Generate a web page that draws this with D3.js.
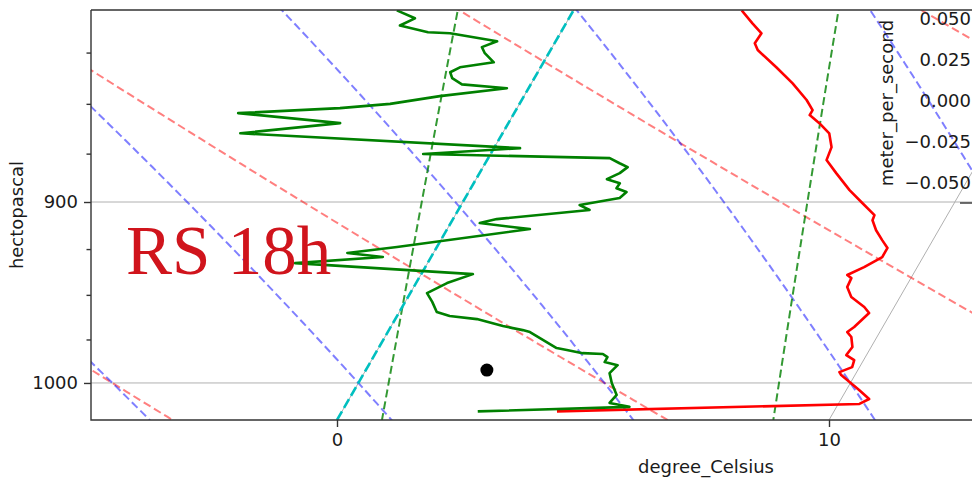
<!DOCTYPE html>
<meta charset="utf-8">
<style>
  body { margin: 0; background: #fff; }
  svg { display: block; font-family: "DejaVu Sans", sans-serif; }
  .grid { stroke: #b0b0b0; stroke-width: 1; fill: none; }
  .dry { stroke: #ff0000; stroke-opacity: .5; stroke-width: 2; stroke-dasharray: 8,4; fill: none; }
  .moist { stroke: #0000ff; stroke-opacity: .5; stroke-width: 2; stroke-dasharray: 8,4; fill: none; }
  .mix { stroke: #008000; stroke-opacity: .8; stroke-width: 2; stroke-dasharray: 8,4; fill: none; }
  .zero { stroke: #00bfbf; stroke-width: 2.6; stroke-dasharray: 10,4; fill: none; }
  .axis text { font-size: 18px; fill: #1a1a1a; font-family: "DejaVu Sans", sans-serif; }
  .axis path, .axis line { stroke: #333; stroke-width: 1.4; }
</style>
<body>
<svg width="972" height="481"></svg>
<script src="https://cdn.jsdelivr.net/npm/d3@7"></script>
<script>
// sounding (hPa, degC), surface first
var tempPressure = [1016.7, 1012.3, 1009.4, 1004.1, 995.4, 993.7, 990.8, 986.8, 983.9, 979.3,
  973.6, 970.8, 967.9, 960.1, 956.7, 951.2, 945.7, 940.8, 939.1, 934.8, 929.3, 924.4, 920.2,
  914.9, 909.6, 906.9, 900.5, 893.8, 885.0, 878.3, 871.7, 864.7, 859.6, 855.6, 853.1, 848.1,
  839.9, 832.1, 823.8, 820.5, 815.8, 811.1, 805.0];
var temperature = [4.37, 10.43, 10.57, 10.26, 9.72, 9.65, 9.85, 9.81, 9.59, 9.62,
  9.48, 9.34, 9.42, 9.56, 9.39, 9.01, 8.81, 8.79, 8.67, 8.92, 9.17, 9.17, 8.97,
  8.73, 8.54, 8.52, 8.13, 7.72, 7.25, 6.90, 6.85, 6.64, 6.32, 6.03, 6.03, 5.79,
  5.31, 4.79, 4.21, 4.07, 4.09, 3.79, 3.42];

var dewPressure = [1016.7, 1014.0, 1011.7, 1007.0, 1000.0, 994.3, 989.7, 987.9, 985.1, 983.3,
  982.8, 981.0, 979.9, 970.8, 969.7, 967.4, 963.5, 961.8, 959.5, 953.9, 949.0, 943.5, 938.6,
  932.6, 929.3, 927.1, 923.9, 914.3, 911.1, 909.0, 908.5, 904.2, 901.6, 897.9, 894.8, 892.8,
  890.2, 888.1, 885.0, 881.9, 879.9, 877.3, 875.2, 872.2, 864.7, 859.6, 854.6, 852.1, 850.0,
  846.2, 842.3, 840.4, 837.4, 834.5, 832.1, 829.7, 825.3, 822.4, 819.6, 815.8, 815.3, 812.1,
  808.7, 805.0];
var dewpoint = [2.76, 5.79, 5.34, 5.39, 5.15, 4.99, 5.06, 4.76, 4.76, 4.63,
  4.21, 3.85, 3.62, 2.89, 2.72, 2.27, 1.66, 1.07, 0.76, 0.55, 0.34, 0.63, 1.05,
  -2.69, -0.98, -1.75, -0.81, 1.68, 0.59, 0.89, 1.08, 2.67, 2.41, 3.14, 3.21, 2.96,
  2.97, 2.66, 2.85, 2.94, 2.73, 2.47, -1.37, 0.53, -5.33, -3.42, -5.61, -3.60, -2.63,
  -1.71, -0.44, -1.40, -1.67, -1.78, -1.64, -1.01, -1.30, -1.43, -1.19, -2.24, -2.70, -3.35,
  -3.13, -3.59];

var markerPoint = [992.5, 2.46];

// background lines
var dryT0 = [-25, -15, -5, 5, 15, 25, 35];
var moistT0 = [-5, 0, 5, 10, 15, 20, 25];
var mixRatios = [0.0004, 0.001, 0.002, 0.004, 0.007, 0.01, 0.016, 0.024, 0.032];
var isotherms = [0, 10, 20];
var tTicks = [0, 10];
var pMajor = [900, 1000];
var pMinor = [825, 850, 875, 925, 950, 975];
var windTicks = [-0.05, -0.025, 0, 0.025, 0.05];

var svg = d3.select("svg");
var mLeft = 91, mTop = 10, mBottom = 420, mRight = 1321;
var pBottom = 1021.8, pTop = 804.8;
var skew = Math.tan(30 * Math.PI / 180);

var x = d3.scaleLinear().domain([-5, 20]).range([mLeft, mRight]);
var y = d3.scaleLog().domain([pBottom, pTop]).range([mBottom, mTop]);
function sx(t, p) { return x(t) + (mBottom - y(p)) * skew; }

var line = d3.line().x(d => sx(d.t, d.p)).y(d => y(d.p));

// thermo bits ---------------------------------------------------------------
var Rd = 287.04749, Cp = 1004.6662, Lv = 2.50084e6, eps = 0.6219569;
function satMix(p, T) {
  var es = 6.112 * Math.exp(17.67 * (T - 273.15) / (T - 29.65));
  return eps * es / (p - es);
}
function dTdp(p, T) {
  var rs = satMix(p, T);
  return (Rd * T + Lv * rs) / (Cp + Lv * Lv * rs * eps / (Rd * T * T)) / p;
}
function moistLine(t0) {
  var pts = [];
  [[1040, 2], [760, -2]].forEach(function(run) {
    var T = t0 + 273.15, p = 1000, h = run[1];
    while (h > 0 ? p <= run[0] : p >= run[0]) {
      pts.push({p: p, t: T - 273.15});
      var k1 = dTdp(p, T), k2 = dTdp(p + h / 2, T + h / 2 * k1),
          k3 = dTdp(p + h / 2, T + h / 2 * k2), k4 = dTdp(p + h, T + h * k3);
      T += h / 6 * (k1 + 2 * k2 + 2 * k3 + k4);
      p += h;
    }
  });
  return pts.sort((a, b) => b.p - a.p);
}
function dryLine(t0) {
  return d3.range(1040, 759, -5).map(p => ({p: p, t: (t0 + 273.15) * Math.pow(p / 1000, Rd / Cp) - 273.15}));
}
function mixLine(w) {
  return d3.range(50).map(function(i) {
    var p = 600 + (pBottom - 600) * i / 49;
    var v = Math.log(p * w / (eps + w) / 6.112);
    return {p: p, t: 243.5 * v / (17.67 - v)};
  });
}
//-----------------------------------------------------------------------------

svg.append("clipPath").attr("id", "plot")
  .append("rect").attr("x", mLeft).attr("y", mTop).attr("width", mRight - mLeft).attr("height", mBottom - mTop);

var plot = svg.append("g").attr("clip-path", "url(#plot)");

plot.selectAll(".hgrid").data(pMajor).enter().append("line")
  .attr("class", "grid")
  .attr("x1", mLeft).attr("x2", mRight)
  .attr("y1", d => y(d)).attr("y2", d => y(d));

plot.selectAll(".vgrid").data(isotherms).enter().append("path")
  .attr("class", "grid")
  .attr("d", d => line([{t: d, p: pBottom}, {t: d, p: pTop}]));

plot.selectAll(".dry").data(dryT0).enter().append("path")
  .attr("class", "dry").attr("d", d => line(dryLine(d)));

plot.selectAll(".moist").data(moistT0).enter().append("path")
  .attr("class", "moist").attr("d", d => line(moistLine(d)));

plot.selectAll(".mix").data(mixRatios).enter().append("path")
  .attr("class", "mix").attr("d", d => line(mixLine(d)));

plot.append("path").attr("class", "zero")
  .attr("d", line([{t: 0, p: pBottom}, {t: 0, p: pTop}]));

var tempData = tempPressure.map((p, i) => ({p: p, t: temperature[i]}));
var dewData = dewPressure.map((p, i) => ({p: p, t: dewpoint[i]}));

plot.append("path").datum(tempData)
  .attr("d", line).attr("fill", "none").attr("stroke", "#ff0000")
  .attr("stroke-width", 2.6).attr("stroke-linejoin", "round");

plot.append("path").datum(dewData)
  .attr("d", line).attr("fill", "none").attr("stroke", "#008000")
  .attr("stroke-width", 2.6).attr("stroke-linejoin", "round");

plot.append("circle")
  .attr("cx", sx(markerPoint[1], markerPoint[0]))
  .attr("cy", y(markerPoint[0]))
  .attr("r", 6.5).attr("fill", "#000");

// axes ------------------------------------------------------------------------
svg.append("g").attr("class", "axis").attr("transform", "translate(" + mLeft + ",0)")
  .call(d3.axisLeft(y).tickValues(pMinor).tickSize(4.5).tickFormat(""))
  .call(g => g.select(".domain").remove());

svg.append("g").attr("class", "axis").attr("transform", "translate(" + mLeft + ",0)")
  .call(d3.axisLeft(y).tickValues(pMajor).tickSize(7).tickPadding(6).tickFormat(d3.format("d")))
  .call(g => g.select(".domain").remove());

svg.append("g").attr("class", "axis").attr("transform", "translate(0," + mBottom + ")")
  .call(d3.axisBottom(x).tickValues(tTicks).tickSize(7).tickPadding(6).tickFormat(d3.format("d")))
  .call(g => g.select(".domain").remove());

svg.append("path")
  .attr("d", "M" + mLeft + "," + mTop + "H" + mRight + "M" + mLeft + "," + mTop + "V" + mBottom + "H" + mRight)
  .attr("fill", "none").attr("stroke", "#333").attr("stroke-width", 1.4);

// right hand inset axis, mostly cut off
var wy = d3.scaleLinear().domain([-0.05, 0.05]).range([182.5, 18.5]);
svg.append("g").attr("class", "axis")
  .selectAll("text").data(windTicks).enter().append("text")
  .attr("x", 971).attr("y", d => wy(d)).attr("dy", "0.34em")
  .attr("text-anchor", "end")
  .text(d3.format(".3f"));
svg.append("line").attr("x1", 960).attr("x2", 972).attr("y1", 203).attr("y2", 203)
  .attr("stroke", "#333").attr("stroke-width", 1.4);

svg.append("text")
  .attr("transform", "translate(893,103) rotate(-90)")
  .attr("text-anchor", "middle").style("font-size", "18px").attr("fill", "#1a1a1a")
  .text("meter_per_second");

svg.append("text")
  .attr("transform", "translate(23,215) rotate(-90)")
  .attr("text-anchor", "middle").style("font-size", "18px").attr("fill", "#1a1a1a")
  .text("hectopascal");

svg.append("text")
  .attr("x", 706).attr("y", 473)
  .attr("text-anchor", "middle").style("font-size", "18px").attr("fill", "#1a1a1a")
  .text("degree_Celsius");

svg.append("text")
  .attr("x", 126).attr("y", 274)
  .style("font-family", "'Liberation Serif', serif").style("font-size", "69px")
  .attr("fill", "#d0141c")
  .text("RS 18h");
</script>
</body>
